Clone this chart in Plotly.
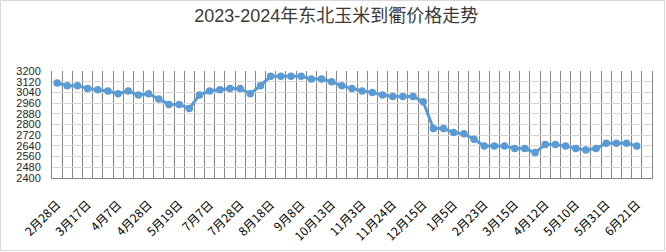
import plotly.graph_objects as go

# Tick labels (every third category is labelled)
tick_labels = ["2月28日", "3月17日", "4月7日", "4月28日", "5月19日", "7月7日", "7月28日",
               "8月18日", "9月8日", "10月13日", "11月3日", "11月24日", "12月15日", "1月5日",
               "2月23日", "3月15日", "4月12日", "5月10日", "5月31日", "6月21日"]

# Price series (元/吨)
prices = [3110, 3090, 3090, 3070, 3060, 3050, 3030, 3050, 3020, 3030,
          2990, 2950, 2950, 2920, 3020, 3050, 3060, 3070, 3070, 3030,
          3090, 3160, 3160, 3160, 3160, 3140, 3140, 3120, 3090, 3070,
          3050, 3040, 3020, 3010, 3010, 3010, 2970, 2770, 2770, 2740,
          2730, 2690, 2640, 2640, 2640, 2620, 2620, 2590, 2650, 2650,
          2640, 2620, 2610, 2620, 2660, 2660, 2660, 2640]

n_categories = len(prices) + 1  # one empty category at the end
x = list(range(1, len(prices) + 1))
tickvals = x[::3]

W, H = 666, 252
ML, MR, MT, MB = 52, 14, 71, 74
PW, PH = W - ML - MR, H - MT - MB

fig = go.Figure()
fig.add_trace(go.Scatter(
    x=x, y=prices, mode="lines+markers",
    line=dict(color="#5b9bd5", width=3),
    marker=dict(color="#5b9bd5", size=7.5),
    hoverinfo="skip",
))

def px_to_paper_x(px):
    return (px - ML) / PW

def px_to_paper_y(py):
    return (H - MB - py) / PH

fig.update_layout(
    width=W, height=H,
    margin=dict(l=ML, r=MR, t=MT, b=MB, autoexpand=False),
    paper_bgcolor="white", plot_bgcolor="white",
    showlegend=False,
    title=dict(text="2023-2024年东北玉米到衢价格走势",
               font=dict(family="Liberation Sans, Noto Sans CJK SC", size=18, color="#3a3a3a"),
               x=0.505, xanchor="center", y=1 - 16 / H, yanchor="middle", yref="container"),
    xaxis=dict(
        automargin=False,
        range=[0.5, n_categories + 0.5],
        tickmode="array", tickvals=tickvals, ticktext=tick_labels,
        tickangle=-45, ticks="", showgrid=False, zeroline=False,
        tickfont=dict(family="Noto Sans CJK SC", size=12, color="#000000"),
        ticklabelstandoff=14,
        showline=True, linecolor="#868686", linewidth=1,
        minor=dict(tick0=0.5, dtick=1, showgrid=True, gridcolor="#868686", gridwidth=1, ticks=""),
    ),
    yaxis=dict(
        automargin=False,
        range=[2400, 3200], tickmode="linear", tick0=2400, dtick=80,
        showgrid=True, gridcolor="#d9d9d9", gridwidth=1, zeroline=False,
        tickfont=dict(family="Liberation Sans", size=11, color="#262626"),
        ticks="", ticklabelstandoff=8,
        showline=True, mirror=True, linecolor="#868686", linewidth=1,
    ),
    shapes=[dict(type="rect", xref="paper", yref="paper",
                 x0=px_to_paper_x(0.5), x1=px_to_paper_x(664.5),
                 y0=px_to_paper_y(250.5), y1=px_to_paper_y(0.5),
                 line=dict(color="#d9d9d9", width=1), layer="below")],
)

fig.write_html("out.html")
